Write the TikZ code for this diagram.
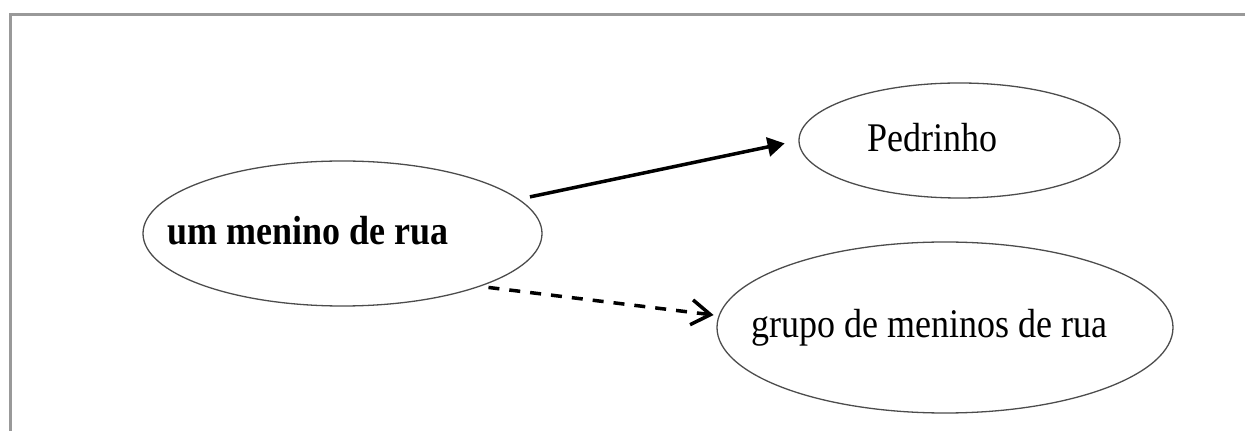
\documentclass[tikz,border=0pt]{standalone}
\usepackage{fontspec}
\usepackage{graphicx}
\setmainfont{Liberation Serif}
\usetikzlibrary{shapes.geometric,arrows.meta}
\tikzset{
  oval/.style={ellipse, draw=black!70, line width=1.3pt, inner sep=0pt},
  lbl/.style={anchor=base west, inner sep=0pt, font=\fontsize{36}{40}\selectfont},
  solidarrow/.style={line width=3.5pt, -{Triangle[length=17pt,width=19pt]}},
  dasharrow/.style={line width=3.5pt, dash pattern=on 11pt off 10pt, -{Straight Barb[length=19pt,width=25pt,line width=3.5pt]}},
  frameline/.style={line width=3pt, draw=black!40}
}
\begin{document}
\begin{tikzpicture}[x=1pt,y=1pt]
\useasboundingbox (0,0) rectangle (1245,431);
\draw[frameline] (10,0) -- (10,416) -- (1245,416);
\node[oval, minimum width=399pt, minimum height=145pt] (um) at (342.5,197.5) {};
\node[oval, minimum width=321pt, minimum height=115pt] (ped) at (959.5,290.5) {};
\node[oval, minimum width=456pt, minimum height=171pt] (grp) at (945,103.5) {};
\node[lbl] (umt) at (167,186) {\scalebox{1}[1.13]{\bfseries um menino de rua}};
\node[lbl] (pedt) at (867,279) {\scalebox{1}[1.13]{Pedrinho}};
\node[lbl] (grpt) at (751,93) {\scalebox{1}[1.13]{grupo de meninos de rua}};
\draw[solidarrow, shorten <=11pt, shorten >=14pt] (um.11.5) -- (ped.west);
\draw[dasharrow, shorten <=8pt, shorten >=5pt] (um.-21.6) -- (grp.177);
\end{tikzpicture}
\end{document}
